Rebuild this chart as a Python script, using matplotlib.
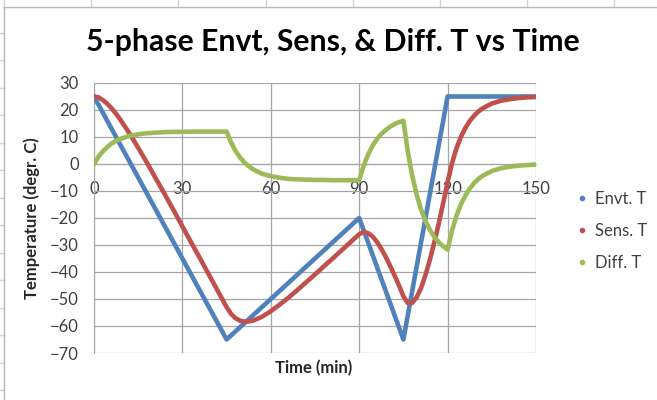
import numpy as np
import matplotlib
matplotlib.use("Agg")
import matplotlib.pyplot as plt
from matplotlib.lines import Line2D

plt.rcParams['font.family'] = ['Lato', 'DejaVu Sans']

# time in minutes (finer steps where the sensor response bends quickly)
time_min = [0, 1.5, 3, 4.5, 6, 7.5, 9,
            12, 15, 18, 21, 24, 27, 30, 33, 36, 39, 42, 45,
            46.5, 48, 49.5, 51, 52.5, 54,
            57, 60, 63, 66, 69, 72, 75, 78, 81, 84, 87, 90,
            91.5, 93, 94.5, 96, 97.5, 99, 100.5, 102, 103.5, 105,
            106.5, 108, 109.5, 111, 112.5, 114, 115.5, 117, 118.5, 120,
            121.5, 123, 124.5, 126, 127.5, 129, 130.5,
            132, 135, 138, 141, 144, 147, 150]

# environment temperature (5 phases)
envt_t = [25, 22, 19, 16, 13, 10, 7,
          1, -5, -11, -17, -23, -29, -35, -41, -47, -53, -59, -65,
          -63.5, -62, -60.5, -59, -57.5, -56,
          -53, -50, -47, -44, -41, -38, -35, -32, -29, -26, -23, -20,
          -24.5, -29, -33.5, -38, -42.5, -47, -51.5, -56, -60.5, -65,
          -56, -47, -38, -29, -20, -11, -2, 7, 16, 25,
          25, 25, 25, 25, 25, 25, 25,
          25, 25, 25, 25, 25, 25, 25]

# sensor temperature
sens_t = [25, 24.7, 23.7, 22.3, 20.6, 18.6, 16.3,
          11.4, 6.0, 0.4, -5.4, -11.2, -17.1, -23.1, -29.1, -35.0, -41.0, -47.0, -53.0,
          -55.5, -57.1, -58.0, -58.4, -58.3, -58.0,
          -56.6, -54.5, -52.1, -49.5, -46.7, -43.8, -40.9, -37.9, -35.0, -32.0, -29.0, -26.0,
          -25.2, -25.6, -26.8, -28.8, -31.4, -34.4, -37.7, -41.3, -45.0, -49.0,
          -51.5, -51.4, -49.4, -45.9, -41.1, -35.4, -29.0, -22.0, -14.5, -6.7,
          0.3, 5.8, 10.0, 13.3, 15.9, 17.9, 19.5,
          20.7, 22.4, 23.4, 24.0, 24.4, 24.7, 24.8]

# sensor minus environment
diff_t = [0, 2.7, 4.7, 6.3, 7.6, 8.6, 9.3,
          10.4, 11.0, 11.4, 11.6, 11.8, 11.9, 11.9, 12.0, 12.0, 12.0, 12.0, 12.0,
          8.0, 4.9, 2.5, 0.6, -0.8, -2.0,
          -3.6, -4.5, -5.1, -5.5, -5.7, -5.8, -5.9, -5.9, -6.0, -6.0, -6.0, -6.0,
          -0.7, 3.4, 6.7, 9.2, 11.1, 12.6, 13.8, 14.8, 15.5, 16.0,
          4.5, -4.4, -11.4, -16.9, -21.1, -24.4, -27.0, -29.0, -30.5, -31.7,
          -24.7, -19.2, -15.0, -11.7, -9.1, -7.1, -5.5,
          -4.3, -2.6, -1.6, -1.0, -0.6, -0.4, -0.2]

series = [('Envt. T', envt_t, '#4f81bd'),
          ('Sens. T', sens_t, '#c0504d'),
          ('Diff. T', diff_t, '#9bbb59')]

W, H = 657, 400
fig = plt.figure(figsize=(W / 100, H / 100), dpi=100)

# spreadsheet cells behind the chart
cell_col = '#d4d4d4'
for x in [4, 91, 178, 266, 353, 440, 527, 614]:
    fig.add_artist(Line2D([x / W, x / W], [1, 1 - 7 / H], color=cell_col, lw=1))
for y in np.linspace(33, 390, 14):
    fig.add_artist(Line2D([0, 4 / W], [1 - y / H, 1 - y / H], color=cell_col, lw=1))
# chart frame
fig.add_artist(Line2D([4 / W, 4 / W], [0, 1 - 7 / H], color='#b8b8b8', lw=1))
fig.add_artist(Line2D([4 / W, 1], [1 - 7 / H, 1 - 7 / H], color='#b8b8b8', lw=1))

ax = fig.add_axes([94 / W, 1 - 353 / H, 442 / W, 270 / H])

grid_col = '#a6a6a6'
for name, vals, col in series:
    ax.plot(time_min, vals, color=col, lw=3.3, solid_joinstyle='round', zorder=3)

ax.set_xlim(0, 150)
ax.set_ylim(-70, 30)
ax.set_xticks([0, 30, 60, 90, 120, 150])
ax.set_yticks(range(-70, 31, 10))
ax.grid(True, color=grid_col, lw=0.9)
ax.set_axisbelow(True)

ax.spines['top'].set_visible(False)
ax.spines['right'].set_visible(False)
ax.spines['left'].set_color(grid_col)
ax.spines['bottom'].set_color(grid_col)
ax.spines['bottom'].set_position(('data', 0))
ax.tick_params(axis='both', length=0, labelsize=12, labelcolor='#404040')
ax.tick_params(axis='x', pad=12)
ax.tick_params(axis='y', pad=11)

ax.set_ylabel('Temperature (degr. C)', fontsize=12, fontweight='bold', color='#262626')
ax.yaxis.set_label_coords((40 - 94) / 442, 0.5)
fig.text(314 / W, 1 - 368 / H, 'Time (min)', ha='center', va='center',
         fontsize=12, fontweight='bold', color='#262626')

fig.text(333 / W, 1 - 42 / H, '5-phase Envt, Sens, & Diff. T vs Time', ha='center', va='center',
         fontsize=21.7, fontweight='bold', color='black')

handles = [Line2D([], [], ls='none', marker='o', ms=3, color=c) for _, _, c in series]
fig.legend(handles, [n for n, _, _ in series], loc='upper left',
           bbox_to_anchor=(560 / W, 1 - 176 / H), frameon=False, fontsize=12,
           handlelength=0.8, handletextpad=0.4, labelspacing=0.96, labelcolor='#404040')

fig.savefig('out.png', dpi=100)
